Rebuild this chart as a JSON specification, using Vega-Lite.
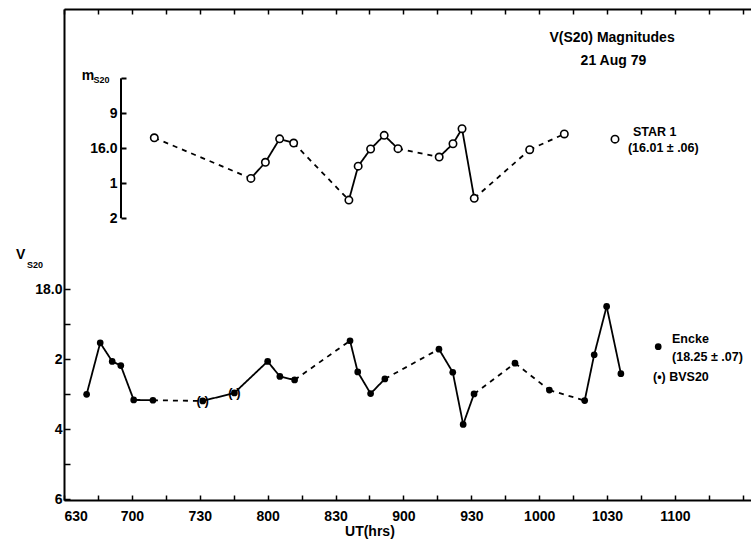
{
  "$schema": "https://vega.github.io/schema/vega-lite/v6.json",
  "width": 687,
  "height": 491,
  "autosize": {"type": "none"},
  "padding": {"left": 64, "top": 9, "right": 0, "bottom": 41},
  "background": "white",
  "config": {
    "view": {"stroke": null},
    "font": "Liberation Sans",
    "axis": {"labelFont": "Liberation Sans", "labelFontWeight": "bold", "labelFontSize": 14, "labelColor": "black", "domainColor": "black", "tickColor": "black", "grid": false, "domainWidth": 2, "tickWidth": 1.5},
    "text": {"font": "Liberation Sans", "fontWeight": "bold", "color": "black"}
  },
  "datasets": {
    "encke": [
      {"t": 400.0, "v": 18.300, "seg": "solid", "paren": false},
      {"t": 406.0, "v": 18.153, "seg": "solid", "paren": false},
      {"t": 411.3, "v": 18.206, "seg": "solid", "paren": false},
      {"t": 415.1, "v": 18.218, "seg": "solid", "paren": false},
      {"t": 420.8, "v": 18.316, "seg": "solid", "paren": false},
      {"t": 429.3, "v": 18.317, "seg": "dashed", "paren": false},
      {"t": 451.3, "v": 18.319, "seg": "solid", "paren": true},
      {"t": 465.3, "v": 18.296, "seg": "solid", "paren": true},
      {"t": 480.0, "v": 18.206, "seg": "solid", "paren": false},
      {"t": 485.4, "v": 18.249, "seg": "solid", "paren": false},
      {"t": 491.9, "v": 18.259, "seg": "dashed", "paren": false},
      {"t": 516.4, "v": 18.147, "seg": "solid", "paren": false},
      {"t": 519.8, "v": 18.236, "seg": "solid", "paren": false},
      {"t": 525.5, "v": 18.298, "seg": "solid", "paren": false},
      {"t": 531.8, "v": 18.256, "seg": "dashed", "paren": false},
      {"t": 555.7, "v": 18.171, "seg": "solid", "paren": false},
      {"t": 561.8, "v": 18.237, "seg": "solid", "paren": false},
      {"t": 566.4, "v": 18.386, "seg": "solid", "paren": false},
      {"t": 571.2, "v": 18.299, "seg": "dashed", "paren": false},
      {"t": 589.3, "v": 18.211, "seg": "dashed", "paren": false},
      {"t": 604.5, "v": 18.288, "seg": "dashed", "paren": false},
      {"t": 620.1, "v": 18.318, "seg": "solid", "paren": false},
      {"t": 624.3, "v": 18.187, "seg": "solid", "paren": false},
      {"t": 629.8, "v": 18.049, "seg": "solid", "paren": false},
      {"t": 636.1, "v": 18.241, "seg": "solid", "paren": false}
    ],
    "star": [
      {"t": 429.9, "v": 15.970, "seg": "dashed"},
      {"t": 472.6, "v": 16.086, "seg": "solid"},
      {"t": 479.0, "v": 16.040, "seg": "solid"},
      {"t": 485.3, "v": 15.973, "seg": "solid"},
      {"t": 491.5, "v": 15.985, "seg": "dashed"},
      {"t": 515.9, "v": 16.148, "seg": "solid"},
      {"t": 520.0, "v": 16.051, "seg": "solid"},
      {"t": 525.5, "v": 16.002, "seg": "solid"},
      {"t": 531.5, "v": 15.963, "seg": "solid"},
      {"t": 537.6, "v": 16.001, "seg": "dashed"},
      {"t": 555.8, "v": 16.025, "seg": "solid"},
      {"t": 561.9, "v": 15.987, "seg": "solid"},
      {"t": 565.9, "v": 15.944, "seg": "solid"},
      {"t": 571.3, "v": 16.143, "seg": "dashed"},
      {"t": 595.8, "v": 16.004, "seg": "dashed"},
      {"t": 611.1, "v": 15.959, "seg": "dashed"}
    ],
    "bracket": [
      {"t": 415.2, "v": 15.8, "v2": 16.2}
    ],
    "marks": [
      {"kind": "open", "t": 633.5, "v": 17.571},
      {"kind": "filled", "t": 652.6, "v": 18.164}
    ],
    "ann": [
      {"role": "title", "t": 632.2, "v": 17.282, "label": "V(S20) Magnitudes"},
      {"role": "title", "t": 632.8, "v": 17.347, "label": "21  Aug  79"},
      {"role": "title", "t": 525.2, "v": 18.693, "label": "UT(hrs)"},
      {"role": "title", "t": 370.9, "v": 17.902, "label": "V"},
      {"role": "title", "t": 400.6, "v": 17.390, "label": "m"},
      {"role": "subscript", "t": 373.6, "v": 17.931, "label": "S20"},
      {"role": "subscript", "t": 403.0, "v": 17.402, "label": "S20"},
      {"role": "legend", "t": 641.4, "v": 17.551, "label": "STAR  1"},
      {"role": "legend", "t": 639.2, "v": 17.595, "label": "(16.01 ± .06)"},
      {"role": "legend", "t": 658.7, "v": 18.142, "label": "Encke"},
      {"role": "legend", "t": 658.7, "v": 18.193, "label": "(18.25 ± .07)"},
      {"role": "legend", "t": 650.3, "v": 18.251, "label": "(•) BVS20"}
    ]
  },
  "layer": [
    {
      "encoding": {
        "x": {
          "field": "t", "type": "quantitative",
          "scale": {"domain": [390, 693.6], "nice": false, "zero": false},
          "axis": {
            "orient": "bottom",
            "values": [390, 405, 420, 435, 450, 465, 480, 495, 510, 525, 540, 555, 570, 585, 600, 615, 630, 645, 660, 675, 690],
            "tickSize": -5, "labelPadding": 14, "labelFlush": true, "labelFlushOffset": 0,
            "labelExpr": "(datum.value % 30 == 0 && datum.value <= 660) ? '' + (floor(datum.value / 60) * 100 + datum.value % 60) : ''",
            "title": null
          }
        },
        "y": {
          "field": "v", "type": "quantitative",
          "scale": {"domain": [17.1991, 18.602], "reverse": true, "nice": false, "zero": false},
          "axis": {
            "orient": "left",
            "values": [18.0, 18.1, 18.2, 18.3, 18.4, 18.5, 18.6],
            "tickSize": -6, "labelPadding": 8,
            "labelExpr": "round(datum.value * 10) == 180 ? '18.0' : round(datum.value * 10) == 182 ? '2' : round(datum.value * 10) == 184 ? '4' : round(datum.value * 10) == 186 ? '6' : ''",
            "title": null
          }
        }
      },
      "layer": [
        {
          "data": {"name": "encke"},
          "transform": [
            {"window": [{"op": "lead", "field": "t", "as": "t2"}, {"op": "lead", "field": "v", "as": "v2"}], "sort": [{"field": "t", "order": "ascending"}]},
            {"filter": "datum.t2 != null"}
          ],
          "mark": {"type": "rule", "strokeWidth": 1.8, "color": "black"},
          "encoding": {
            "x2": {"field": "t2"},
            "y2": {"field": "v2"},
            "strokeDash": {"field": "seg", "type": "nominal", "scale": {"domain": ["solid", "dashed"], "range": [[1, 0], [5, 5]]}, "legend": null}
          }
        },
        {
          "data": {"name": "encke"},
          "mark": {"type": "circle", "size": 45, "opacity": 1, "color": "black"}
        },
        {
          "data": {"name": "encke"},
          "transform": [{"filter": "datum.paren"}],
          "mark": {"type": "text", "text": "(   )", "fontSize": 13, "baseline": "middle", "align": "center"}
        },
        {
          "data": {"name": "marks"},
          "transform": [{"filter": "datum.kind == 'filled'"}],
          "mark": {"type": "circle", "size": 45, "opacity": 1, "color": "black"}
        },
        {
          "data": {"name": "marks"},
          "transform": [{"filter": "datum.kind == 'open'"}],
          "mark": {"type": "point", "shape": "circle", "size": 55, "filled": true, "fill": "white", "stroke": "black", "strokeWidth": 1.6, "opacity": 1}
        },
        {
          "data": {"name": "ann"},
          "transform": [{"filter": "datum.role == 'title'"}],
          "mark": {"type": "text", "fontSize": 14, "align": "center", "baseline": "middle"},
          "encoding": {"text": {"field": "label"}}
        },
        {
          "data": {"name": "ann"},
          "transform": [{"filter": "datum.role == 'legend'"}],
          "mark": {"type": "text", "fontSize": 12.5, "align": "left", "baseline": "middle"},
          "encoding": {"text": {"field": "label"}}
        },
        {
          "data": {"name": "ann"},
          "transform": [{"filter": "datum.role == 'subscript'"}],
          "mark": {"type": "text", "fontSize": 9, "align": "left", "baseline": "middle"},
          "encoding": {"text": {"field": "label"}}
        }
      ]
    },
    {
      "encoding": {
        "x": {
          "field": "t", "type": "quantitative",
          "scale": {"domain": [390, 693.6], "nice": false, "zero": false},
          "axis": {
            "orient": "top",
            "values": [390, 405, 420, 435, 450, 465, 480, 495, 510, 525, 540, 555, 570, 585, 600, 615, 630, 645, 660, 675, 690],
            "tickSize": -5, "labels": false, "title": null
          }
        },
        "y": {
          "field": "v", "type": "quantitative",
          "scale": {"domain": [15.602, 17.0049], "reverse": true, "nice": false, "zero": false},
          "axis": {
            "orient": "left", "offset": -57,
            "values": [15.8, 15.9, 16.0, 16.1, 16.2],
            "domain": false, "tickSize": -5, "tickWidth": 2, "labelPadding": 9,
            "labelExpr": "round(datum.value * 10) == 159 ? '9' : round(datum.value * 10) == 160 ? '16.0' : round(datum.value * 10) == 161 ? '1' : round(datum.value * 10) == 162 ? '2' : ''",
            "title": null
          }
        }
      },
      "layer": [
        {
          "data": {"name": "star"},
          "transform": [
            {"window": [{"op": "lead", "field": "t", "as": "t2"}, {"op": "lead", "field": "v", "as": "v2"}], "sort": [{"field": "t", "order": "ascending"}]},
            {"filter": "datum.t2 != null"}
          ],
          "mark": {"type": "rule", "strokeWidth": 1.8, "color": "black"},
          "encoding": {
            "x2": {"field": "t2"},
            "y2": {"field": "v2"},
            "strokeDash": {"field": "seg", "type": "nominal", "scale": {"domain": ["solid", "dashed"], "range": [[1, 0], [5, 5]]}, "legend": null}
          }
        },
        {
          "data": {"name": "star"},
          "mark": {"type": "point", "shape": "circle", "size": 55, "filled": true, "fill": "white", "stroke": "black", "strokeWidth": 1.6, "opacity": 1}
        },
        {
          "data": {"name": "bracket"},
          "mark": {"type": "rule", "strokeWidth": 2, "color": "black"},
          "encoding": {"y2": {"field": "v2"}}
        }
      ]
    }
  ],
  "resolve": {"scale": {"y": "independent"}, "axis": {"x": "independent", "y": "independent"}}
}
